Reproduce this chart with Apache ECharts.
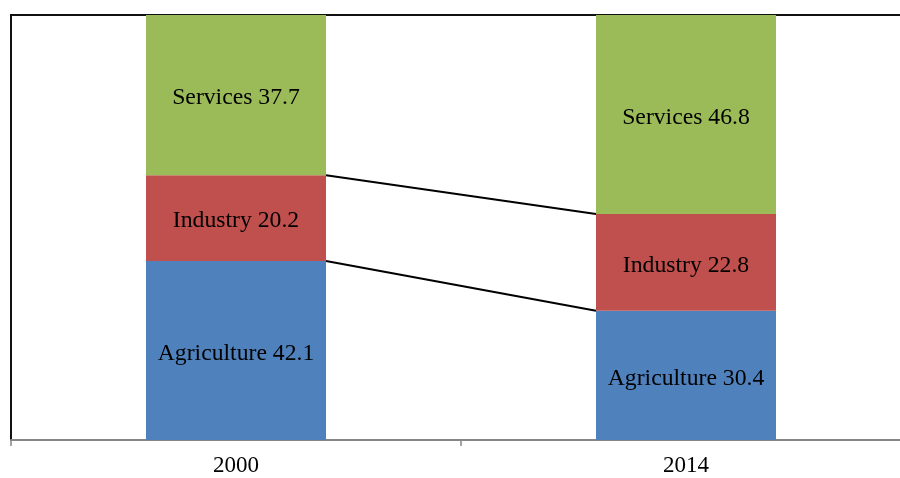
<!DOCTYPE html>
<html>
<head>
<meta charset="utf-8">
<script src="https://cdn.jsdelivr.net/npm/echarts@6/dist/echarts.min.js"></script>
<style>
  html, body { margin: 0; padding: 0; background: #fff; overflow: hidden; }
  #chart { width: 911px; height: 478px; }
</style>
</head>
<body>
<div id="chart"></div>
<script>
const years = ['2000', '2014']
const agriculture = [42.1, 30.4]
const industry = [20.2, 22.8]
const services = [37.7, 46.8]

// series lines join the tops of agriculture and industry between the bars
const joins = [
  [0, agriculture[0], agriculture[1]],
  [0, agriculture[0] + industry[0], agriculture[1] + industry[1]]
]

const font = '"Liberation Serif", "Times New Roman", serif'
const label = {
  show: true,
  position: 'inside',
  offset: [0, 3],
  formatter: '{a} {c}',
  color: '#000',
  fontFamily: font,
  fontSize: 23.7
}

// plot area runs past the right edge of the window, like the original
const myChart = echarts.init(document.getElementById('chart'))
const option = {
  animation: false,
  grid: {
    left: 11, top: 15, right: 0, bottom: 38,
    show: true, borderColor: '#111', borderWidth: 2
  },
  xAxis: {
    type: 'category',
    data: years,
    axisLine: { lineStyle: { color: '#868686', width: 2 } },
    axisTick: { show: true, length: 6, lineStyle: { color: '#868686', width: 1.5 } },
    axisLabel: { color: '#000', fontFamily: font, fontSize: 23, margin: 14 }
  },
  yAxis: {
    type: 'value', min: 0, max: 100,
    show: false, splitLine: { show: false }
  },
  series: [
    { name: 'Agriculture', type: 'bar', stack: 'a', barWidth: '40%', data: agriculture,
      itemStyle: { color: '#4F81BD' }, label: label },
    { name: 'Industry', type: 'bar', stack: 'a', data: industry,
      itemStyle: { color: '#C0504D' }, label: label },
    { name: 'Services', type: 'bar', stack: 'a', data: services,
      itemStyle: { color: '#9BBB59' }, label: label },
    {
      type: 'custom',
      data: joins,
      encode: { x: 0, y: 1 },
      z: 5,
      renderItem: function (params, api) {
        const p0 = api.coord([0, api.value(1)])
        const p1 = api.coord([1, api.value(2)])
        const half = api.size([1, 0])[0] * 0.2
        return {
          type: 'line',
          shape: { x1: p0[0] + half, y1: p0[1], x2: p1[0] - half, y2: p1[1] },
          style: { stroke: '#000', lineWidth: 2 }
        }
      }
    }
  ]
}
myChart.setOption(option)
</script>
</body>
</html>
